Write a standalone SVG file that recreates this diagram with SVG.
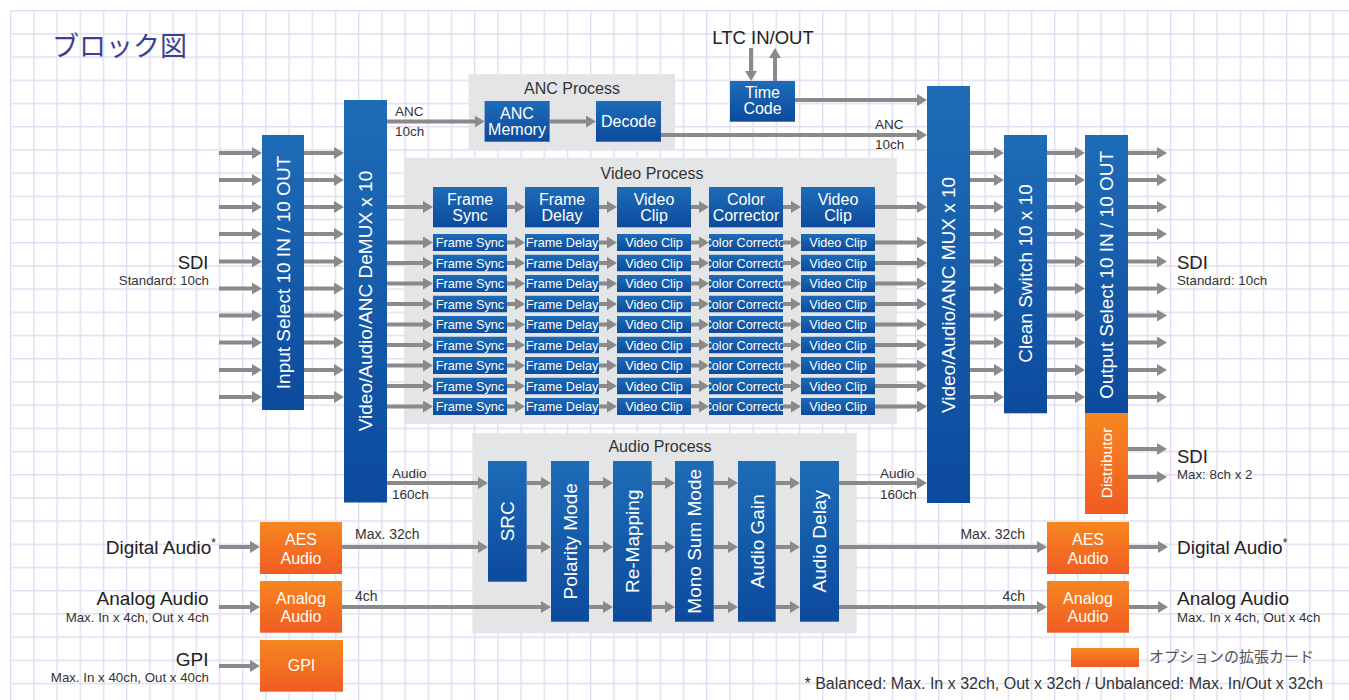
<svg xmlns="http://www.w3.org/2000/svg" width="1349" height="700" viewBox="0 0 1349 700">
<defs>
<pattern id="grid" patternUnits="userSpaceOnUse" x="10" y="10" width="23.2" height="23.2">
<path d="M0.7 0 V23.2 M0 0.7 H23.2" stroke="#e1ddf2" stroke-width="1.4" fill="none"/>
</pattern>
<linearGradient id="blue" x1="0" y1="0" x2="0" y2="1">
<stop offset="0" stop-color="#1e6cb8"/><stop offset="1" stop-color="#0c4a9d"/>
</linearGradient>
<linearGradient id="orange" x1="0" y1="0" x2="0" y2="1">
<stop offset="0" stop-color="#f6871f"/><stop offset="1" stop-color="#f15b24"/>
</linearGradient>
<marker id="ah" markerUnits="userSpaceOnUse" markerWidth="10" markerHeight="12" refX="2" refY="6" orient="auto">
<path d="M0 0 L10 6 L0 12 Z" fill="#8a8a8a"/>
</marker>
<style>
.b{fill:url(#blue)}
.o{fill:url(#orange)}
.p{fill:#e4e5e7}
.a{stroke:#8a8a8a;stroke-width:4;fill:none;marker-end:url(#ah)}
text{font-family:"Liberation Sans",Arial,sans-serif}
.w{fill:#fff;text-anchor:middle;font-size:16px}
.ws{fill:#fff;text-anchor:middle;font-size:12.7px}
.wr{fill:#fff;text-anchor:middle;font-size:19px}
.pt{fill:#333;text-anchor:middle;font-size:16px}
.lb{fill:#222;font-size:19px}
.sm{fill:#333;font-size:13.3px}
.cl{fill:#333;font-size:13.5px}
.e{text-anchor:end}
</style>
</defs>
<rect width="1349" height="700" fill="#fff"/>
<rect x="10" y="10" width="1339" height="690" fill="url(#grid)"/>
<text x="52" y="56" font-size="27" fill="#3d3f97" style="font-family:'Noto Sans CJK JP',sans-serif">ブロック図</text>

<g id="panels">
<rect id="anc-process" class="p" x="468.6" y="74" width="206.4" height="75.3"/>
<text class="pt" x="572" y="93.5">ANC Process</text>
<rect id="video-process" class="p" x="404.3" y="157.7" width="492.5" height="266.3"/>
<text class="pt" x="652" y="178.5">Video Process</text>
<rect id="audio-process" class="p" x="472.3" y="433.3" width="384.4" height="200"/>
<text class="pt" x="660" y="451.7">Audio Process</text>
</g>

<g id="connectors">
<path class="a" d="M219 153 H254"/><path class="a" d="M219 180 H254"/><path class="a" d="M219 207 H254"/><path class="a" d="M219 234 H254"/><path class="a" d="M219 261.5 H254"/><path class="a" d="M219 288.5 H254"/><path class="a" d="M219 315.5 H254"/><path class="a" d="M219 342.5 H254"/><path class="a" d="M219 370 H254"/><path class="a" d="M219 397 H254"/>
<path class="a" d="M304 153 H336"/><path class="a" d="M304 180 H336"/><path class="a" d="M304 207 H336"/><path class="a" d="M304 234 H336"/><path class="a" d="M304 261.5 H336"/><path class="a" d="M304 288.5 H336"/><path class="a" d="M304 315.5 H336"/><path class="a" d="M304 342.5 H336"/><path class="a" d="M304 370 H336"/><path class="a" d="M304 397 H336"/>
<path class="a" d="M970 153 H996"/><path class="a" d="M970 180 H996"/><path class="a" d="M970 207 H996"/><path class="a" d="M970 234 H996"/><path class="a" d="M970 261.5 H996"/><path class="a" d="M970 288.5 H996"/><path class="a" d="M970 315.5 H996"/><path class="a" d="M970 342.5 H996"/><path class="a" d="M970 370 H996"/><path class="a" d="M970 397 H996"/>
<path class="a" d="M1047 153 H1077"/><path class="a" d="M1047 180 H1077"/><path class="a" d="M1047 207 H1077"/><path class="a" d="M1047 234 H1077"/><path class="a" d="M1047 261.5 H1077"/><path class="a" d="M1047 288.5 H1077"/><path class="a" d="M1047 315.5 H1077"/><path class="a" d="M1047 342.5 H1077"/><path class="a" d="M1047 370 H1077"/><path class="a" d="M1047 397 H1077"/>
<path class="a" d="M1128 153 H1159"/><path class="a" d="M1128 180 H1159"/><path class="a" d="M1128 207 H1159"/><path class="a" d="M1128 234 H1159"/><path class="a" d="M1128 261.5 H1159"/><path class="a" d="M1128 288.5 H1159"/><path class="a" d="M1128 315.5 H1159"/><path class="a" d="M1128 342.5 H1159"/><path class="a" d="M1128 370 H1159"/><path class="a" d="M1128 397 H1159"/>
<path class="a" d="M1128 449 H1159"/><path class="a" d="M1128 477 H1159"/>
<path class="a" d="M387 121.5 H476.6"/><path class="a" d="M549.6 121.5 H588"/><path class="a" d="M661 135 H919"/><path class="a" d="M795 100 H919"/><path class="a" d="M751 48 V73"/><path class="a" d="M775 81 V56"/>
<path class="a" d="M387 207 H425"/><path class="a" d="M507 207 H517"/><path class="a" d="M599 207 H609"/><path class="a" d="M691 207 H701"/><path class="a" d="M783 207 H793"/><path class="a" d="M875 207 H919"/>
<path class="a" d="M387 242.5 H425"/><path class="a" d="M507 242.5 H517"/><path class="a" d="M599 242.5 H609"/><path class="a" d="M691 242.5 H701"/><path class="a" d="M783 242.5 H793"/><path class="a" d="M875 242.5 H919"/>
<path class="a" d="M387 263 H425"/><path class="a" d="M507 263 H517"/><path class="a" d="M599 263 H609"/><path class="a" d="M691 263 H701"/><path class="a" d="M783 263 H793"/><path class="a" d="M875 263 H919"/>
<path class="a" d="M387 283.5 H425"/><path class="a" d="M507 283.5 H517"/><path class="a" d="M599 283.5 H609"/><path class="a" d="M691 283.5 H701"/><path class="a" d="M783 283.5 H793"/><path class="a" d="M875 283.5 H919"/>
<path class="a" d="M387 304 H425"/><path class="a" d="M507 304 H517"/><path class="a" d="M599 304 H609"/><path class="a" d="M691 304 H701"/><path class="a" d="M783 304 H793"/><path class="a" d="M875 304 H919"/>
<path class="a" d="M387 324.5 H425"/><path class="a" d="M507 324.5 H517"/><path class="a" d="M599 324.5 H609"/><path class="a" d="M691 324.5 H701"/><path class="a" d="M783 324.5 H793"/><path class="a" d="M875 324.5 H919"/>
<path class="a" d="M387 345 H425"/><path class="a" d="M507 345 H517"/><path class="a" d="M599 345 H609"/><path class="a" d="M691 345 H701"/><path class="a" d="M783 345 H793"/><path class="a" d="M875 345 H919"/>
<path class="a" d="M387 365.5 H425"/><path class="a" d="M507 365.5 H517"/><path class="a" d="M599 365.5 H609"/><path class="a" d="M691 365.5 H701"/><path class="a" d="M783 365.5 H793"/><path class="a" d="M875 365.5 H919"/>
<path class="a" d="M387 386 H425"/><path class="a" d="M507 386 H517"/><path class="a" d="M599 386 H609"/><path class="a" d="M691 386 H701"/><path class="a" d="M783 386 H793"/><path class="a" d="M875 386 H919"/>
<path class="a" d="M387 406.5 H425"/><path class="a" d="M507 406.5 H517"/><path class="a" d="M599 406.5 H609"/><path class="a" d="M691 406.5 H701"/><path class="a" d="M783 406.5 H793"/><path class="a" d="M875 406.5 H919"/>
<path class="a" d="M387 483 H480"/><path class="a" d="M526.7 483 H543"/><path class="a" d="M589 483 H605"/><path class="a" d="M651.7 483 H667"/><path class="a" d="M713.7 483 H730"/><path class="a" d="M775.7 483 H792"/><path class="a" d="M839 483 H919"/>
<path class="a" d="M342 547 H480"/><path class="a" d="M526.7 547 H543"/><path class="a" d="M589 547 H605"/><path class="a" d="M651.7 547 H667"/><path class="a" d="M713.7 547 H730"/><path class="a" d="M775.7 547 H792"/><path class="a" d="M839 547 H1039"/>
<path class="a" d="M342 607 H543"/><path class="a" d="M589 607 H605"/><path class="a" d="M651.7 607 H667"/><path class="a" d="M713.7 607 H730"/><path class="a" d="M775.7 607 H792"/><path class="a" d="M839 607 H1039"/>
<path class="a" d="M219 547 H252"/><path class="a" d="M219 607 H252"/><path class="a" d="M219 666 H252"/><path class="a" d="M1129 547 H1160"/><path class="a" d="M1129 607 H1160"/>
</g>

<g id="connector-labels">
<text class="cl" x="395" y="116">ANC</text><text class="cl" x="395" y="136">10ch</text>
<text class="cl" x="875" y="129">ANC</text><text class="cl" x="875" y="148.5">10ch</text>
<text class="cl" x="392" y="477.5">Audio</text><text class="cl" x="392" y="498.5">160ch</text>
<text class="cl" x="880" y="477.5">Audio</text><text class="cl" x="880" y="498.5">160ch</text>
<text class="cl" x="355" y="538.5" style="font-size:14px">Max. 32ch</text><text class="cl" x="355" y="600.7" style="font-size:14px">4ch</text>
<text class="cl e" x="1025" y="538.5" style="font-size:14px">Max. 32ch</text><text class="cl e" x="1025" y="600.7" style="font-size:14px">4ch</text>
</g>

<g id="input-select"><rect class="b" x="262" y="135" width="42" height="275"/><text class="wr" transform="translate(289.5 272.5) rotate(-90)">Input Select 10 IN / 10 OUT</text></g>
<g id="demux"><rect class="b" x="344" y="100" width="43" height="402.5"/><text class="wr" transform="translate(372 301) rotate(-90)">Video/Audio/ANC DeMUX x 10</text></g>
<g id="mux"><rect class="b" x="927" y="86" width="43" height="417"/><text class="wr" transform="translate(955 295) rotate(-90)">Video/Audio/ANC MUX x 10</text></g>
<g id="clean-switch"><rect class="b" x="1004" y="135" width="43" height="278.3"/><text class="wr" transform="translate(1032 273.5) rotate(-90)">Clean Switch 10 x 10</text></g>
<g id="output-select"><rect class="b" x="1085" y="135" width="43" height="278"/><text class="wr" transform="translate(1113 275) rotate(-90)">Output Select 10 IN / 10 OUT</text></g>
<g id="distributor"><rect class="o" x="1085" y="413" width="43" height="101"/><text class="w" style="font-size:15.5px" transform="translate(1112 463) rotate(-90)">Distributor</text></g>

<g id="time-code"><rect class="b" x="730" y="81" width="65" height="40.7"/><text class="w" x="762.5" y="98.3">Time</text><text class="w" x="762.5" y="114.3">Code</text></g>
<g id="anc-memory"><rect class="b" x="484.6" y="101" width="65" height="40.7"/><text class="w" x="517" y="118.5">ANC</text><text class="w" x="517" y="134.5">Memory</text></g>
<g id="decode"><rect class="b" x="596" y="101" width="65" height="40.7"/><text class="w" x="628.5" y="126.5">Decode</text></g>

<g id="frame-sync"><rect class="b" x="433" y="187" width="74" height="40.3"/><text class="w" x="470" y="205">Frame</text><text class="w" x="470" y="221">Sync</text></g>
<g id="frame-delay"><rect class="b" x="525" y="187" width="74" height="40.3"/><text class="w" x="562" y="205">Frame</text><text class="w" x="562" y="221">Delay</text></g>
<g id="video-clip-1"><rect class="b" x="617" y="187" width="74" height="40.3"/><text class="w" x="654" y="205">Video</text><text class="w" x="654" y="221">Clip</text></g>
<g id="color-corrector"><rect class="b" x="709" y="187" width="74" height="40.3"/><text class="w" x="746" y="205">Color</text><text class="w" x="746" y="221">Corrector</text></g>
<g id="video-clip-2"><rect class="b" x="801" y="187" width="74" height="40.3"/><text class="w" x="838" y="205">Video</text><text class="w" x="838" y="221">Clip</text></g>

<g id="video-rows">
<g id="row1"><svg x="433" y="234" width="74" height="17"><rect class="b" width="74" height="17"/><text class="ws" x="37" y="13">Frame Sync</text></svg><svg x="525" y="234" width="74" height="17"><rect class="b" width="74" height="17"/><text class="ws" x="37" y="13">Frame Delay</text></svg><svg x="617" y="234" width="74" height="17"><rect class="b" width="74" height="17"/><text class="ws" x="37" y="13">Video Clip</text></svg><svg x="709" y="234" width="74" height="17"><rect class="b" width="74" height="17"/><text class="ws" x="37" y="13">Color Corrector</text></svg><svg x="801" y="234" width="74" height="17"><rect class="b" width="74" height="17"/><text class="ws" x="37" y="13">Video Clip</text></svg></g>
<g id="row2"><svg x="433" y="254.5" width="74" height="17"><rect class="b" width="74" height="17"/><text class="ws" x="37" y="13">Frame Sync</text></svg><svg x="525" y="254.5" width="74" height="17"><rect class="b" width="74" height="17"/><text class="ws" x="37" y="13">Frame Delay</text></svg><svg x="617" y="254.5" width="74" height="17"><rect class="b" width="74" height="17"/><text class="ws" x="37" y="13">Video Clip</text></svg><svg x="709" y="254.5" width="74" height="17"><rect class="b" width="74" height="17"/><text class="ws" x="37" y="13">Color Corrector</text></svg><svg x="801" y="254.5" width="74" height="17"><rect class="b" width="74" height="17"/><text class="ws" x="37" y="13">Video Clip</text></svg></g>
<g id="row3"><svg x="433" y="275" width="74" height="17"><rect class="b" width="74" height="17"/><text class="ws" x="37" y="13">Frame Sync</text></svg><svg x="525" y="275" width="74" height="17"><rect class="b" width="74" height="17"/><text class="ws" x="37" y="13">Frame Delay</text></svg><svg x="617" y="275" width="74" height="17"><rect class="b" width="74" height="17"/><text class="ws" x="37" y="13">Video Clip</text></svg><svg x="709" y="275" width="74" height="17"><rect class="b" width="74" height="17"/><text class="ws" x="37" y="13">Color Corrector</text></svg><svg x="801" y="275" width="74" height="17"><rect class="b" width="74" height="17"/><text class="ws" x="37" y="13">Video Clip</text></svg></g>
<g id="row4"><svg x="433" y="295.5" width="74" height="17"><rect class="b" width="74" height="17"/><text class="ws" x="37" y="13">Frame Sync</text></svg><svg x="525" y="295.5" width="74" height="17"><rect class="b" width="74" height="17"/><text class="ws" x="37" y="13">Frame Delay</text></svg><svg x="617" y="295.5" width="74" height="17"><rect class="b" width="74" height="17"/><text class="ws" x="37" y="13">Video Clip</text></svg><svg x="709" y="295.5" width="74" height="17"><rect class="b" width="74" height="17"/><text class="ws" x="37" y="13">Color Corrector</text></svg><svg x="801" y="295.5" width="74" height="17"><rect class="b" width="74" height="17"/><text class="ws" x="37" y="13">Video Clip</text></svg></g>
<g id="row5"><svg x="433" y="316" width="74" height="17"><rect class="b" width="74" height="17"/><text class="ws" x="37" y="13">Frame Sync</text></svg><svg x="525" y="316" width="74" height="17"><rect class="b" width="74" height="17"/><text class="ws" x="37" y="13">Frame Delay</text></svg><svg x="617" y="316" width="74" height="17"><rect class="b" width="74" height="17"/><text class="ws" x="37" y="13">Video Clip</text></svg><svg x="709" y="316" width="74" height="17"><rect class="b" width="74" height="17"/><text class="ws" x="37" y="13">Color Corrector</text></svg><svg x="801" y="316" width="74" height="17"><rect class="b" width="74" height="17"/><text class="ws" x="37" y="13">Video Clip</text></svg></g>
<g id="row6"><svg x="433" y="336.5" width="74" height="17"><rect class="b" width="74" height="17"/><text class="ws" x="37" y="13">Frame Sync</text></svg><svg x="525" y="336.5" width="74" height="17"><rect class="b" width="74" height="17"/><text class="ws" x="37" y="13">Frame Delay</text></svg><svg x="617" y="336.5" width="74" height="17"><rect class="b" width="74" height="17"/><text class="ws" x="37" y="13">Video Clip</text></svg><svg x="709" y="336.5" width="74" height="17"><rect class="b" width="74" height="17"/><text class="ws" x="37" y="13">Color Corrector</text></svg><svg x="801" y="336.5" width="74" height="17"><rect class="b" width="74" height="17"/><text class="ws" x="37" y="13">Video Clip</text></svg></g>
<g id="row7"><svg x="433" y="357" width="74" height="17"><rect class="b" width="74" height="17"/><text class="ws" x="37" y="13">Frame Sync</text></svg><svg x="525" y="357" width="74" height="17"><rect class="b" width="74" height="17"/><text class="ws" x="37" y="13">Frame Delay</text></svg><svg x="617" y="357" width="74" height="17"><rect class="b" width="74" height="17"/><text class="ws" x="37" y="13">Video Clip</text></svg><svg x="709" y="357" width="74" height="17"><rect class="b" width="74" height="17"/><text class="ws" x="37" y="13">Color Corrector</text></svg><svg x="801" y="357" width="74" height="17"><rect class="b" width="74" height="17"/><text class="ws" x="37" y="13">Video Clip</text></svg></g>
<g id="row8"><svg x="433" y="377.5" width="74" height="17"><rect class="b" width="74" height="17"/><text class="ws" x="37" y="13">Frame Sync</text></svg><svg x="525" y="377.5" width="74" height="17"><rect class="b" width="74" height="17"/><text class="ws" x="37" y="13">Frame Delay</text></svg><svg x="617" y="377.5" width="74" height="17"><rect class="b" width="74" height="17"/><text class="ws" x="37" y="13">Video Clip</text></svg><svg x="709" y="377.5" width="74" height="17"><rect class="b" width="74" height="17"/><text class="ws" x="37" y="13">Color Corrector</text></svg><svg x="801" y="377.5" width="74" height="17"><rect class="b" width="74" height="17"/><text class="ws" x="37" y="13">Video Clip</text></svg></g>
<g id="row9"><svg x="433" y="398" width="74" height="17"><rect class="b" width="74" height="17"/><text class="ws" x="37" y="13">Frame Sync</text></svg><svg x="525" y="398" width="74" height="17"><rect class="b" width="74" height="17"/><text class="ws" x="37" y="13">Frame Delay</text></svg><svg x="617" y="398" width="74" height="17"><rect class="b" width="74" height="17"/><text class="ws" x="37" y="13">Video Clip</text></svg><svg x="709" y="398" width="74" height="17"><rect class="b" width="74" height="17"/><text class="ws" x="37" y="13">Color Corrector</text></svg><svg x="801" y="398" width="74" height="17"><rect class="b" width="74" height="17"/><text class="ws" x="37" y="13">Video Clip</text></svg></g>
</g>

<g id="src"><rect class="b" x="488" y="461" width="38.7" height="120.7"/><text class="wr" transform="translate(514 521.3) rotate(-90)">SRC</text></g>
<g id="polarity-mode"><rect class="b" x="551" y="461" width="38" height="160.7"/><text class="wr" transform="translate(576.7 541.3) rotate(-90)">Polarity Mode</text></g>
<g id="re-mapping"><rect class="b" x="613" y="461" width="38.7" height="160.7"/><text class="wr" transform="translate(639 541.3) rotate(-90)">Re-Mapping</text></g>
<g id="mono-sum-mode"><rect class="b" x="675" y="461" width="38.7" height="160.7"/><text class="wr" transform="translate(701 541.3) rotate(-90)">Mono Sum Mode</text></g>
<g id="audio-gain"><rect class="b" x="738" y="461" width="37.7" height="160.7"/><text class="wr" transform="translate(763.5 541.3) rotate(-90)">Audio Gain</text></g>
<g id="audio-delay"><rect class="b" x="800" y="461" width="39" height="160.7"/><text class="wr" transform="translate(826.2 541.3) rotate(-90)">Audio Delay</text></g>

<g id="aes-in"><rect class="o" x="260" y="522" width="82" height="52"/><text class="w" x="301" y="545">AES</text><text class="w" x="301" y="564">Audio</text></g>
<g id="analog-in"><rect class="o" x="260" y="581" width="82" height="51.7"/><text class="w" x="301" y="603.5">Analog</text><text class="w" x="301" y="622">Audio</text></g>
<g id="gpi"><rect class="o" x="260" y="640" width="83" height="51.7"/><text class="w" x="301.5" y="670.5">GPI</text></g>
<g id="aes-out"><rect class="o" x="1047" y="522" width="82" height="52"/><text class="w" x="1088" y="545">AES</text><text class="w" x="1088" y="564">Audio</text></g>
<g id="analog-out"><rect class="o" x="1047" y="581" width="82" height="51.7"/><text class="w" x="1088" y="603.5">Analog</text><text class="w" x="1088" y="622">Audio</text></g>

<g id="labels">
<text class="lb" x="763" y="44" text-anchor="middle" style="font-size:18.5px">LTC IN/OUT</text>
<text class="lb e" x="208.5" y="268.5" style="font-size:18.5px">SDI</text>
<text class="sm e" x="209" y="284.5">Standard: 10ch</text>
<text class="lb" x="1177" y="268.5" style="font-size:18.5px">SDI</text>
<text class="sm" x="1177" y="284.5">Standard: 10ch</text>
<text class="lb" x="1177" y="463" style="font-size:18.5px">SDI</text>
<text class="sm" x="1177" y="479">Max: 8ch x 2</text>
<text class="lb e" x="216" y="553.5">Digital Audio<tspan dy="-7" style="font-size:12px">*</tspan></text>
<text class="lb" x="1177" y="553.5">Digital Audio<tspan dy="-7" style="font-size:12px">*</tspan></text>
<text class="lb e" x="208.5" y="605">Analog Audio</text>
<text class="sm e" x="209" y="621.7">Max. In x 4ch, Out x 4ch</text>
<text class="lb" x="1177" y="605">Analog Audio</text>
<text class="sm" x="1177" y="621.7">Max. In x 4ch, Out x 4ch</text>
<text class="lb e" x="208.5" y="666">GPI</text>
<text class="sm e" x="209" y="682">Max. In x 40ch, Out x 40ch</text>
</g>

<g id="legend">
<rect class="o" x="1071" y="648" width="68" height="19"/>
<text x="1149" y="662" font-size="15" fill="#555" style="font-family:'Noto Sans CJK JP',sans-serif">オプションの拡張カード</text>
<text x="1323" y="688.5" font-size="16" fill="#333" text-anchor="end">* Balanced: Max. In x 32ch, Out x 32ch / Unbalanced: Max. In/Out x 32ch</text>
</g>
</svg>
